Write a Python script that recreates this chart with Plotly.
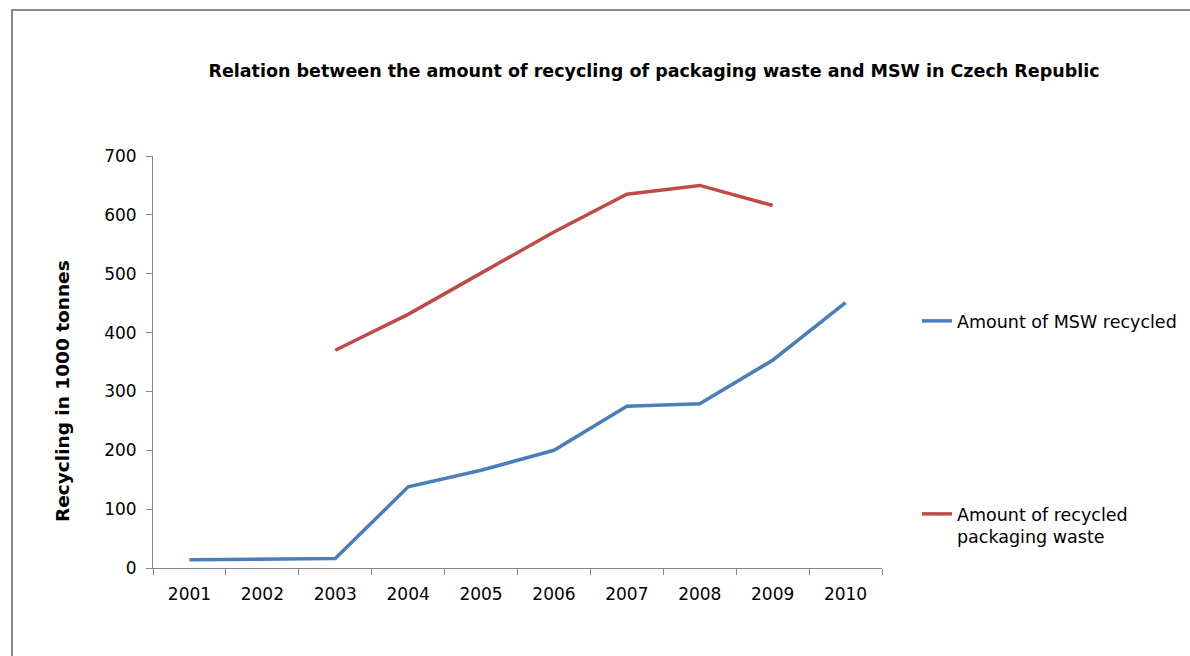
import plotly.graph_objects as go

# Recycling in the Czech Republic, in thousand tonnes
years = ["2001", "2002", "2003", "2004", "2005", "2006", "2007", "2008", "2009", "2010"]
msw_recycled = [14, 15, 16, 138, 166, 200, 275, 279, 353, 451]
packaging_recycled = [None, None, 370, 431, 501, 571, 635, 650, 616, None]

W, H = 1190, 656
L, R, T, B = 153, 308, 156, 88
plot_w = W - L - R
plot_h = H - T - B

FONT = "DejaVu Sans, Verdana, sans-serif"
BLUE = "#4a7ebb"
RED = "#be4b48"
GREY = "#868686"

fig = go.Figure()
fig.add_trace(go.Scatter(
    x=years, y=msw_recycled, mode="lines", name="Amount of MSW recycled",
    line=dict(color=BLUE, width=3.5), legend="legend",
))
fig.add_trace(go.Scatter(
    x=years, y=packaging_recycled, mode="lines",
    name="Amount of recycled<br>packaging waste",
    line=dict(color=RED, width=3.5), legend="legend2",
))


def px_x(px):
    return (px - L) / plot_w


def px_y(py):
    return (H - B - py) / plot_h


legend_style = dict(
    xanchor="left", yanchor="top", bgcolor="rgba(0,0,0,0)",
    font=dict(family=FONT, size=17.5, color="#000"), itemwidth=30,
    valign="top", tracegroupgap=0,
)

fig.update_layout(
    width=W, height=H,
    margin=dict(l=L, r=R, t=T, b=B, pad=0, autoexpand=False),
    paper_bgcolor="white", plot_bgcolor="white",
    title=dict(
        text="<b>Relation between the amount of recycling of packaging waste and MSW in Czech Republic</b>",
        font=dict(family=FONT, size=17.5, color="#000"),
        x=654 / W, xanchor="center", y=1 - 71 / H, yanchor="middle",
    ),
    xaxis=dict(
        type="category", range=[-0.5, 9.5],
        showline=True, linecolor=GREY, linewidth=1,
        ticks="outside", tickson="boundaries", ticklen=6, tickcolor=GREY,
        ticklabelstandoff=11,
        showgrid=False, zeroline=False,
        tickfont=dict(family=FONT, size=17, color="#000"),
    ),
    yaxis=dict(
        range=[0, 700], tickvals=[0, 100, 200, 300, 400, 500, 600, 700],
        showline=True, linecolor=GREY, linewidth=1,
        ticks="outside", ticklen=6, tickcolor=GREY,
        ticklabelstandoff=6,
        showgrid=False, zeroline=False,
        tickfont=dict(family=FONT, size=17, color="#000"),
    ),
    annotations=[dict(
        text="<b>Recycling in 1000 tonnes</b>", textangle=-90,
        xref="paper", yref="paper", x=px_x(62), y=px_y(391),
        xanchor="center", yanchor="middle", showarrow=False,
        font=dict(family=FONT, size=18.5, color="#000"),
    )],
    legend=dict(x=px_x(917), y=px_y(303), **legend_style),
    legend2=dict(x=px_x(917), y=px_y(496), **legend_style),
    showlegend=True,
    shapes=[dict(
        type="rect", xref="paper", yref="paper",
        x0=px_x(12), x1=px_x(W + 20), y0=px_y(H + 20), y1=px_y(10),
        line=dict(color="#888888", width=2), fillcolor="rgba(0,0,0,0)",
    )],
)

fig.write_html("out.html")
